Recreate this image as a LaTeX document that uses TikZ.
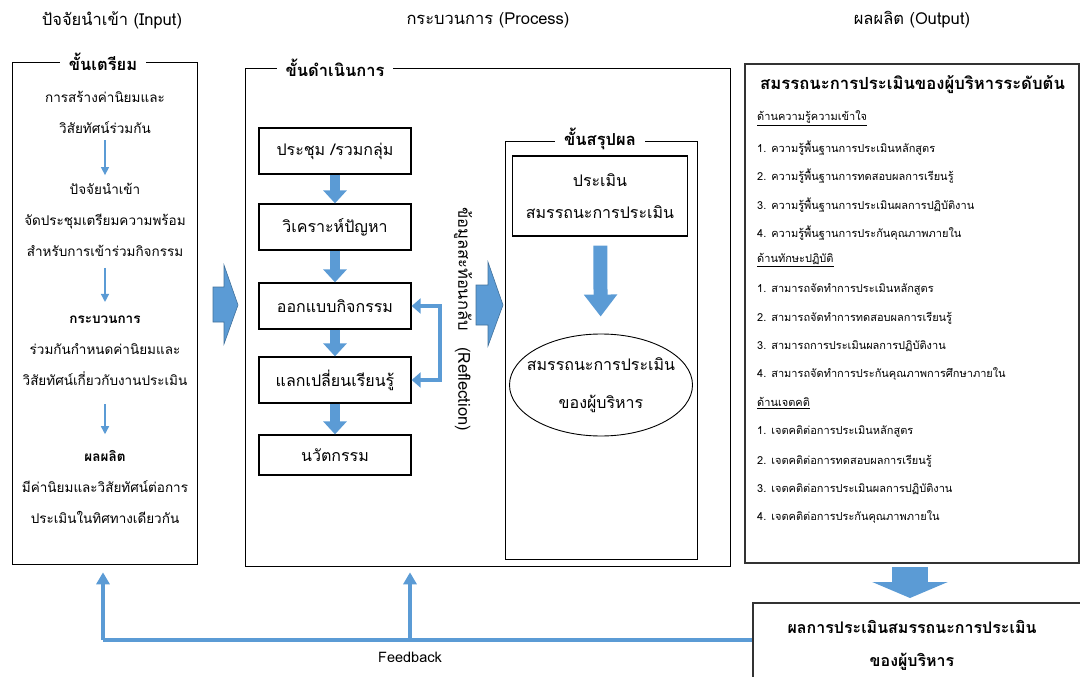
\documentclass[tikz,border=0pt]{standalone}
\usepackage{fontspec}
\setmainfont[Script=Thai]{Loma}
\usetikzlibrary{arrows.meta,shapes.geometric}
\definecolor{blueA}{RGB}{91,155,213}
\definecolor{blueD}{RGB}{65,113,156}
\tikzset{
  panel/.style={draw=black, line width=1.3pt, anchor=north west, inner sep=0pt},
  frametitle/.style={fill=white, inner xsep=9pt, inner ysep=1pt, font=\fontsize{16.5}{18}\selectfont\bfseries},
  header/.style={font=\fontsize{16.5}{18}\selectfont},
  procbox/.style={draw=black, line width=1.3pt, minimum width=152pt, minimum height=46pt, font=\fontsize{16}{18}\selectfont},
  lefttext/.style={align=center, inner sep=0pt, font=\fontsize{13.5}{31}\selectfont},
  thinarrow/.style={draw=blueA, line width=1.3pt, -{Triangle[width=8pt,length=8pt]}},
  smallblock/.style={draw=blueA, line width=10pt, -{Triangle[width=23pt,length=13pt]}},
  fatarrow/.style={fill=blueA, draw=blueD, line width=0.6pt},
  itemtext/.style={anchor=west, inner sep=0pt, font=\fontsize{11}{12}\selectfont},
  feedback/.style={draw=blueA, line width=4.5pt},
}
\begin{document}
\begin{tikzpicture}[x=1pt,y=-1pt]
\useasboundingbox (0,0) rectangle (1080,677);

% column headings
\node[header] (hin)  at (112,20) {ปัจจัยนำเข้า (Input)};
\node[header] (hpro) at (488,20) {กระบวนการ (Process)};
\node[header] (hout) at (912,20) {ผลผลิต (Output)};

% ---------- input panel ----------
\node[panel, minimum width=185pt, minimum height=502pt] (inp) at (12,62) {};
\node[frametitle] (tprep) at (103,62) {ขั้นเตรียม};
\node[lefttext] (l1) at (105,112) {การสร้างค่านิยมและ\\วิสัยทัศน์ร่วมกัน};
\node[lefttext] (l2) at (105,220) {ปัจจัยนำเข้า\\จัดประชุมเตรียมความพร้อม\\สำหรับการเข้าร่วมกิจกรรม};
\node[lefttext] (l3) at (105,351) {\textbf{กระบวนการ}\\ร่วมกันกำหนดค่านิยมและ\\วิสัยทัศน์เกี่ยวกับงานประเมิน};
\node[lefttext] (l4) at (105,487) {\textbf{ผลผลิต}\\มีค่านิยมและวิสัยทัศน์ต่อการ\\ประเมินในทิศทางเดียวกัน};
\draw[thinarrow, shorten <=7pt, shorten >=8pt] (l1) -- (l2);
\draw[thinarrow, shorten <=11pt, shorten >=14pt] (l2) -- (l3);
\draw[thinarrow, shorten <=18pt, shorten >=16pt] (l3) -- (l4);

% block arrow input -> process
\filldraw[fatarrow] (213,287) -- (224,287) -- (224,265) -- (238,305) -- (224,344) -- (224,322) -- (213,322) -- cycle;

% ---------- process panel ----------
\node[panel, minimum width=485pt, minimum height=498pt] (proc) at (245,68) {};
\node[frametitle] (tact) at (335,68) {ขั้นดำเนินการ};

\node[procbox] (b1) at (335,151) {ประชุม /รวมกลุ่ม};
\node[procbox] (b2) at (335,227) {วิเคราะห์ปัญหา};
\node[procbox] (b3) at (335,306) {ออกแบบกิจกรรม};
\node[procbox] (b4) at (335,380) {แลกเปลี่ยนเรียนรู้};
\node[procbox, minimum height=40pt] (b5) at (335,455) {นวัตกรรม};
\draw[smallblock] (b1) -- (b2);
\draw[smallblock] (b2) -- (b3);
\draw[smallblock] (b3) -- (b4);
\draw[smallblock] (b4) -- (b5);

% reflection loop
\coordinate (rx) at (440,0);
\draw[draw=blueA, line width=4pt, {Triangle[width=15pt,length=9pt]}-{Triangle[width=15pt,length=9pt]}]
  (b3.east) -- (b3.east -| rx) -- (b4.east -| rx) -- (b4.east);
\node[rotate=-90, font=\fontsize{16.5}{18}\selectfont] (refl) at (463,319) {ข้อมูลสะท้อนกลับ\quad(Reflection)};

% block arrow into conclusion
\filldraw[fatarrow] (476,285) -- (488,285) -- (488,262) -- (503,305) -- (488,346) -- (488,325) -- (476,325) -- cycle;

% conclusion frame
\node[panel, minimum width=192pt, minimum height=418pt] (concl) at (505,141) {};
\node[frametitle] (tcon) at (600,139) {ขั้นสรุปผล};
\node[draw=black, line width=1.3pt, minimum width=175pt, minimum height=80pt, align=center,
      font=\fontsize{16}{32}\selectfont] (eval) at (600,196) {ประเมิน\\สมรรถนะการประเมิน};
\node[ellipse, draw=black, line width=0.9pt, minimum width=183pt, minimum height=102pt,
      inner xsep=-11pt, inner ysep=0pt, align=center,
      font=\fontsize{16}{38}\selectfont] (ell) at (601,385) {สมรรถนะการประเมิน\\ของผู้บริหาร};
\draw[draw=blueA, line width=14pt, -{Triangle[width=32pt,length=22pt]}, shorten <=9pt, shorten >=17pt] (eval) -- (ell);

% ---------- output panel ----------
\node[panel, line width=2.2pt, draw=black!80, minimum width=334pt, minimum height=499pt] (outp) at (744,63) {};
\node[anchor=west, inner sep=0pt, font=\fontsize{16.7}{19}\selectfont\bfseries] (otitle) at (760,85) {สมรรถนะการประเมินของผู้บริหารระดับต้น};
\foreach \yy/\tx in {
  118/{\underline{ด้านความรู้ความเข้าใจ}},
  148/{1. ความรู้พื้นฐานการประเมินหลักสูตร},
  176/{2. ความรู้พื้นฐานการทดสอบผลการเรียนรู้},
  205/{3. ความรู้พื้นฐานการประเมินผลการปฏิบัติงาน},
  233/{4. ความรู้พื้นฐานการประกันคุณภาพภายใน},
  260/{\underline{ด้านทักษะปฏิบัติ}},
  289/{1. สามารถจัดทำการประเมินหลักสูตร},
  318/{2. สามารถจัดทำการทดสอบผลการเรียนรู้},
  346/{3. สามารถการประเมินผลการปฏิบัติงาน},
  374/{4. สามารถจัดทำการประกันคุณภาพการศึกษาภายใน},
  403/{\underline{ด้านเจตคติ}},
  432/{1. เจตคติต่อการประเมินหลักสูตร},
  461/{2. เจตคติต่อการทดสอบผลการเรียนรู้},
  489/{3. เจตคติต่อการประเมินผลการปฏิบัติงาน},
  517/{4. เจตคติต่อการประกันคุณภาพภายใน}}
  \node[itemtext] at (757,\yy) {\tx};

% results box
\node[panel, line width=2pt, draw=black!80, minimum width=340pt, minimum height=100pt] (res) at (752,602) {};
\node[font=\fontsize{16}{18}\selectfont\bfseries] (r1) at (912,627) {ผลการประเมินสมรรถนะการประเมิน};
\node[font=\fontsize{16}{18}\selectfont\bfseries] (r2) at (912,662) {ของผู้บริหาร};
\draw[draw=blueA, line width=36pt, -{Triangle[width=75pt,length=16pt]}, shorten <=3pt, shorten >=4pt]
  (outp.south -| 910,0) -- (res.north -| 910,0);

% feedback loop
\coordinate (fb) at (752,640);
\coordinate (fbl) at (103,640);
\coordinate (fbm) at (410,640);
\draw[feedback] (fb) -- (fbl);
\draw[feedback, -{Triangle[width=13pt,length=12pt]}, shorten >=7pt] (fbl) -- (fbl |- inp.south);
\draw[feedback, -{Triangle[width=13pt,length=12pt]}, shorten >=5pt] (fbm) -- (fbm |- proc.south);
\node[font=\fontsize{14.5}{16}\selectfont] (fbt) at (410,657) {Feedback};
\end{tikzpicture}
\end{document}
